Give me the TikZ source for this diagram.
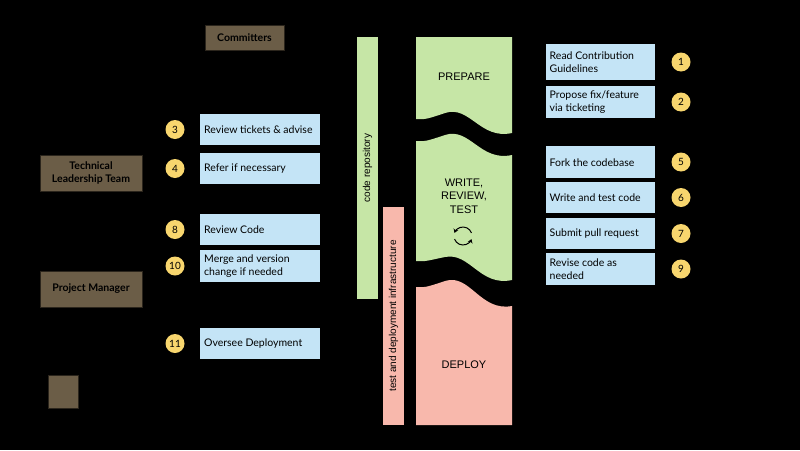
\documentclass[tikz,border=0pt]{standalone}
\usepackage{fontspec}
\setmainfont{Lato}
\newfontfamily\stagefont{Liberation Sans}
\usetikzlibrary{arrows.meta}
\definecolor{brn}{HTML}{6B5D47}
\definecolor{blu}{HTML}{C4E4F6}
\definecolor{grn}{HTML}{C6E6A6}
\definecolor{pnk}{HTML}{F8B8AC}
\definecolor{yel}{HTML}{F8D66E}
\begin{document}
\begin{tikzpicture}[x=1pt,y=-1pt,
  role/.style={fill=brn,draw=black!60!brn,line width=0.4pt,font=\fontsize{10.5}{13}\selectfont\bfseries,text=black,align=center,inner sep=0pt},
  task/.style={fill=blu,draw=none,font=\fontsize{10.5}{12.5}\selectfont,align=left,inner sep=0pt,anchor=north west},
  num/.style={circle,fill=yel,minimum size=19pt,inner sep=0pt,font=\fontsize{10}{11}\selectfont},
  stage/.style={font=\stagefont\fontsize{11}{13.5}\selectfont,align=center}]
\fill[black] (0,0) rectangle (800,450);
\useasboundingbox (0,0) rectangle (800,450);
% roles
\node[role,minimum width=79pt,minimum height=25pt] (com) at (244.5,37.5) {Committers};
\node[role,minimum width=102pt,minimum height=36pt] (tlt) at (91,173) {Technical\\Leadership Team};
\node[role,minimum width=102pt,minimum height=36pt] (pm) at (91,289) {Project Manager};
\node[role,minimum width=30pt,minimum height=33pt] (sq) at (63,391.5) {};
% left tasks
\foreach \n/\y/\h/\t in {3/114/31/Review tickets \& advise,4/153/31/Refer if necessary,8/214/31/Review Code,10/250/32/{Merge and version\\change if needed},11/328/31/Oversee Deployment}{
  \node[task,minimum width=120pt,minimum height=\h pt] (t\n) at (200,\y) {\hspace*{3pt}\parbox{115pt}{\t}};
  \node[num] (n\n) at (175,\y+\h/2) {\n};
}
% right tasks
\foreach \n/\y/\h/\t in {1/44/36/{Read Contribution\\Guidelines},2/86/32/{Propose fix/feature\\via ticketing},5/146/32/Fork the codebase,6/182/31/Write and test code,7/218/31/Submit pull request,9/253/32/{Revise code as\\needed}}{
  \node[task,minimum width=109pt,minimum height=\h pt] (t\n) at (546,\y) {\hspace*{3pt}\parbox{105pt}{\t}};
  \node[num] (n\n) at (681,\y+\h/2) {\n};
}
% bars
\fill[grn] (357,37) rectangle (378,299);
\node[rotate=90,font=\stagefont\fontsize{10}{12}\selectfont] (repo) at (367.5,168) {code repository};
\fill[pnk] (383,207) rectangle (404,425);
\node[rotate=90,font=\stagefont\fontsize{10}{12}\selectfont] (infra) at (393.5,316) {test and deployment infrastructure};
% stages
\fill[grn] (416,37) -- (512,37) -- (512,133) .. controls (480,140) and (470,105) .. (445,113) .. controls (430,118) and (425,120) .. (416,119) -- cycle;
\fill[grn] (416,141) .. controls (425,142) and (430,140) .. (445,135) .. controls (470,127) and (480,162) .. (512,155) -- (512,280) .. controls (480,287) and (470,252) .. (445,257) .. controls (430,260) and (425,262) .. (416,261) -- cycle;
\fill[pnk] (416,287) .. controls (425,288) and (430,286) .. (445,281) .. controls (470,273) and (480,312) .. (512,306) -- (512,425) -- (416,425) -- cycle;
\node[stage] (prep) at (464,77) {PREPARE};
\node[stage] (wrt) at (464,196) {WRITE,\\REVIEW,\\TEST};
\node[stage] (dep) at (464,365) {DEPLOY};
% cycle icon
\begin{scope}[shift={(463,236)},y=1pt]
\draw[line width=1pt,-{Stealth[length=4pt,width=5pt]}] (20:9) arc (20:160:9);
\draw[line width=1pt,-{Stealth[length=4pt,width=5pt]}] (200:9) arc (200:340:9);
\end{scope}
\end{tikzpicture}
\end{document}
